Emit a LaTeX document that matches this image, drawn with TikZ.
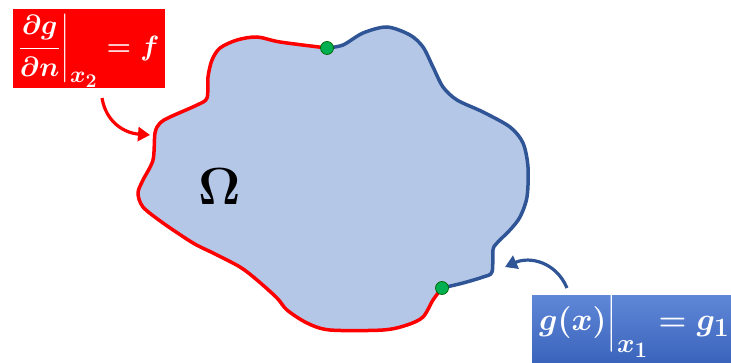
\documentclass[tikz,border=0pt]{standalone}
\usepackage{graphicx}
\usepackage{amsmath,amssymb}
\usetikzlibrary{arrows.meta}
\definecolor{blobfill}{RGB}{180,199,231}
\definecolor{blueline}{RGB}{47,85,151}
\definecolor{dotgreen}{RGB}{0,176,80}
\definecolor{boxtop}{RGB}{95,135,215}
\definecolor{boxbot}{RGB}{58,100,188}
\newcommand{\myredlabel}{\scalebox{1.13}[1.12]{\Huge\mbox{\boldmath$\displaystyle\left.\frac{\partial g}{\partial n}\right\vert_{x_2} = f$}}}
\newcommand{\mybluelabel}{\scalebox{1.28}{\Huge\mbox{\boldmath$g(x)\Big\vert_{x_1} = g_1$}}}
\tikzset{
  redline/.style={draw=red, line width=3.5pt, line join=round, line cap=round},
  blueln/.style={draw=blueline, line width=3.5pt, line join=round, line cap=round},
  gdot/.style={circle, fill=dotgreen, draw=black!60!green, line width=0.7pt, minimum size=13pt, inner sep=0pt},
  bclabel/.style={text=white, inner sep=0pt},
  arr/.style={line width=3.2pt, -{Triangle[length=12pt,width=14pt]}},
}
\begin{document}
\begin{tikzpicture}[x=1pt,y=-1pt]
\useasboundingbox (0,0) rectangle (731,363);
\fill[blobfill] plot[smooth cycle, tension=0.5] coordinates {
(327,48) (343,45) (363,33) (387,27) (410,35) (423,47) (433,67) (443,87) (457,100) (483,112) (510,127) (523,143) (528,167) (527,197) (520,217) (510,230) (497,243) (493,250) (492,272) (483,277) (463,283) (442,288)
(433,300) (423,317) (407,325) (383,330) (330,330) (307,323) (287,310) (277,298) (257,280) (240,267) (213,253) (193,243) (163,223) (143,207) (138,193) (143,180) (153,160) (155,133) (160,123) (170,117) (197,105) (207,98) (208,77) (212,60) (220,48) (237,40) (257,37) (280,42)};
\draw[blueln] plot[smooth, tension=0.5] coordinates {
(327,48) (343,45) (363,33) (387,27) (410,35) (423,47) (433,67) (443,87) (457,100) (483,112) (510,127) (523,143) (528,167) (527,197) (520,217) (510,230) (497,243) (493,250) (492,272) (483,277) (463,283) (442,288)};
\draw[redline] plot[smooth, tension=0.5] coordinates {
(442,288) (433,300) (423,317) (407,325) (383,330) (330,330) (307,323) (287,310) (277,298) (257,280) (240,267) (213,253) (193,243) (163,223) (143,207) (138,193) (143,180) (153,160) (155,133) (160,123) (170,117) (197,105) (207,98) (208,77) (212,60) (220,48) (237,40) (257,37) (280,42) (327,48)};
\node[gdot] (p1) at (327,48) {};
\node[gdot] (p2) at (442,288) {};
\node (omega) at (220,187) {\scalebox{2.1}{\Huge$\mathbf{\Omega}$}};
\node[fill=red, minimum width=152pt, minimum height=79pt, inner sep=0pt] (rbox) at (89,48.5) {};
\node[bclabel, anchor=west] (rtext) at (17,51) {\myredlabel};
\node[top color=boxtop, bottom color=boxbot, minimum width=199pt, minimum height=67pt, inner sep=0pt] (bbox) at (631.5,329.5) {};
\node[bclabel, anchor=west] (btext) at (539,326) {\mybluelabel};
\coordinate (ra) at (102,98);
\coordinate (rb) at (150,135);
\coordinate (ba) at (567,288);
\coordinate (bb) at (505,267);
\draw[arr, red] (ra) .. controls (106,122) and (124,133) .. (rb);
\draw[arr, blueline] (ba) .. controls (556,262) and (530,256) .. (bb);
\end{tikzpicture}
\end{document}
